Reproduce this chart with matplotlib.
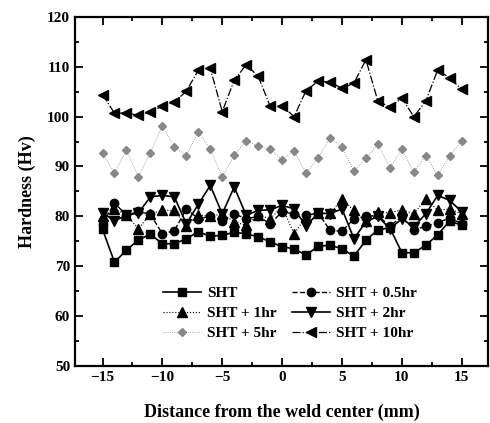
import matplotlib
matplotlib.use("Agg")
import matplotlib.pyplot as plt
from matplotlib.ticker import MultipleLocator

plt.rcParams['font.family'] = ['Liberation Serif', 'DejaVu Serif']
plt.rcParams['font.weight'] = 'bold'

# distance from weld center (mm)
dist = list(range(-15, 16))

sht = [77.4, 70.8, 73.2, 75.3, 76.4, 74.5, 74.5, 75.5, 76.9, 76.0, 76.2,
       76.8, 76.5, 75.9, 74.9, 73.9, 73.5, 72.2, 74.0, 74.2, 73.5, 72.0,
       75.2, 77.3, 77.7, 72.7, 72.7, 74.2, 76.3, 79.1, 78.2]
sht_05 = [78.5, 82.7, 80.2, 81.0, 80.4, 76.5, 77.1, 81.5, 79.5, 80.0, 79.0,
          80.5, 79.5, 80.0, 78.5, 80.9, 80.5, 80.2, 80.7, 77.2, 77.0, 79.5,
          80.0, 80.2, 78.0, 80.0, 77.3, 78.0, 78.7, 79.7, 78.5]
sht_1 = [80.0, 81.5, 80.3, 77.5, 80.5, 81.2, 81.2, 78.0, 80.3, 80.0, 80.5,
         78.9, 78.2, 80.3, 79.5, 81.9, 76.5, 79.9, 80.6, 80.6, 83.4, 81.2,
         79.0, 80.8, 80.7, 81.3, 80.5, 83.5, 81.2, 81.5, 80.5]
sht_2 = [80.7, 79.1, 80.2, 80.7, 83.9, 84.2, 83.9, 78.5, 82.4, 86.2, 80.5,
         85.9, 80.2, 81.2, 81.3, 82.2, 81.5, 78.0, 80.7, 80.5, 81.5, 75.5,
         78.9, 80.0, 77.5, 79.5, 77.9, 80.5, 84.2, 83.2, 80.9]
sht_5 = [92.7, 88.7, 93.3, 87.9, 92.8, 98.2, 93.9, 92.2, 97.0, 93.5, 87.9,
         92.3, 95.1, 94.1, 93.5, 91.3, 93.2, 88.7, 91.7, 95.7, 94.0, 89.0,
         91.7, 94.5, 89.7, 93.5, 88.9, 92.2, 88.2, 92.2, 95.2]
sht_10 = [104.4, 100.7, 100.7, 100.3, 100.9, 102.1, 102.9, 105.1, 109.3,
          109.7, 101.0, 107.3, 110.4, 108.1, 102.1, 102.2, 100.0, 105.2,
          107.1, 106.9, 105.7, 106.7, 111.4, 103.1, 101.9, 103.7, 100.0,
          103.1, 109.4, 107.7, 105.5]

fig = plt.figure(figsize=(4.9, 4.23), dpi=100)
ax = fig.add_axes([0.153, 0.135, 0.843, 0.825])

ax.plot(dist, sht, color='black', marker='s', markersize=6, linewidth=1.2,
        linestyle='-', label='SHT')
ax.plot(dist, sht_1, color='black', marker='^', markersize=6.5, linewidth=0.8,
        linestyle=':', label='SHT + 1hr')
ax.plot(dist, sht_5, color='#888888', marker='D', markersize=4.5, linewidth=0.6,
        linestyle=':', label='SHT + 5hr')
ax.plot(dist, sht_05, color='black', marker='o', markersize=6, linewidth=1.0,
        linestyle='--', label='SHT + 0.5hr')
ax.plot(dist, sht_2, color='black', marker='v', markersize=7, linewidth=1.2,
        linestyle='-', label='SHT + 2hr')
ax.plot(dist, sht_10, color='black', marker='<', markersize=7, linewidth=0.9,
        linestyle='-.', label='SHT + 10hr')

ax.set_xlim(-17.3, 17.2)
ax.set_ylim(50, 120)
ax.xaxis.set_major_locator(MultipleLocator(5))
ax.xaxis.set_minor_locator(MultipleLocator(2.5))
ax.yaxis.set_major_locator(MultipleLocator(10))
ax.yaxis.set_minor_locator(MultipleLocator(5))
ax.tick_params(which='both', direction='in', top=True, right=True,
               labelsize=11, width=1.3)
ax.tick_params(which='major', length=6)
ax.tick_params(which='minor', length=3)
for s in ax.spines.values():
    s.set_linewidth(1.6)

ax.set_xlabel("Distance from the weld center (mm)", fontsize=13,
              fontweight='bold', labelpad=14)
ax.set_ylabel("Hardness (Hv)", fontsize=13, fontweight='bold', labelpad=8)

ax.legend(ncol=2, frameon=False, loc='lower center',
          bbox_to_anchor=(0.52, 0.035), fontsize=11, handlelength=2.5,
          columnspacing=1.0, labelspacing=0.4, handletextpad=0.4)

plt.savefig("out.png", dpi=100)
